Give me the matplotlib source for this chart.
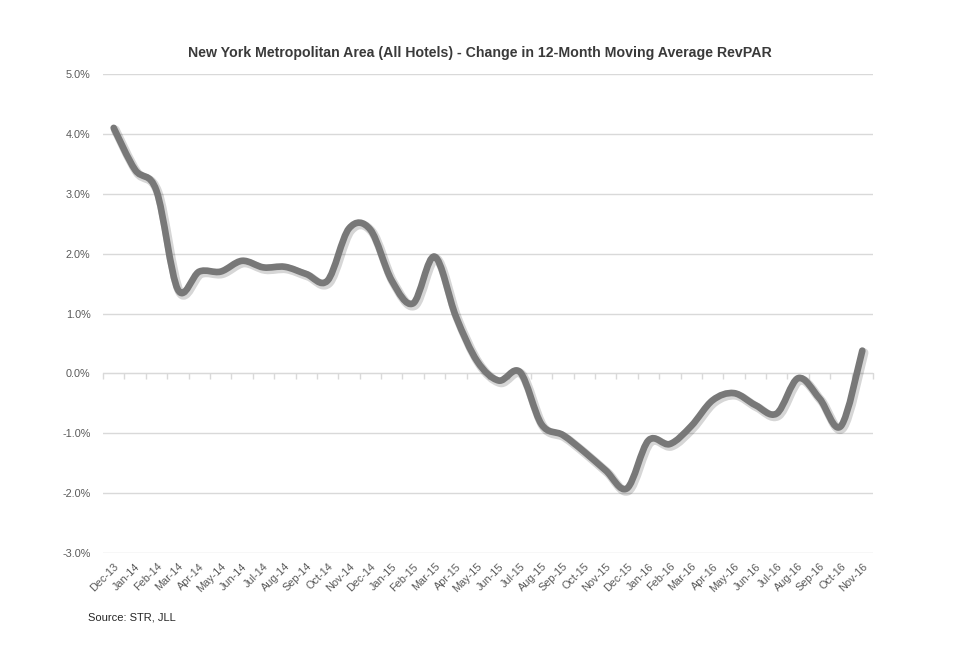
import matplotlib
matplotlib.use("Agg")
import matplotlib.pyplot as plt
import matplotlib.patheffects as pe
from matplotlib.path import Path
from matplotlib.patches import PathPatch
from matplotlib.ticker import FuncFormatter
import numpy as np

months = [
    "Dec-13", "Jan-14", "Feb-14", "Mar-14", "Apr-14", "May-14", "Jun-14", "Jul-14",
    "Aug-14", "Sep-14", "Oct-14", "Nov-14", "Dec-14", "Jan-15", "Feb-15", "Mar-15",
    "Apr-15", "May-15", "Jun-15", "Jul-15", "Aug-15", "Sep-15", "Oct-15", "Nov-15",
    "Dec-15", "Jan-16", "Feb-16", "Mar-16", "Apr-16", "May-16", "Jun-16", "Jul-16",
    "Aug-16", "Sep-16", "Oct-16", "Nov-16",
]
revpar_change = [
    4.10, 3.40, 3.05, 1.40, 1.70, 1.70, 1.88, 1.77,
    1.78, 1.66, 1.55, 2.42, 2.40, 1.55, 1.17, 1.95,
    0.95, 0.20, -0.12, 0.02, -0.85, -1.03, -1.31, -1.62,
    -1.92, -1.12, -1.18, -0.88, -0.45, -0.33, -0.53, -0.67,
    -0.08, -0.42, -0.88, 0.38,
]

TITLE = "New York Metropolitan Area (All Hotels) - Change in 12-Month Moving Average RevPAR"
SOURCE = "Source: STR, JLL"

TEXT = "#595959"
GRID = "#d9d9d9"
LINE = "#787878"

plt.rcParams["font.family"] = ["Liberation Sans Narrow", "Liberation Sans", "DejaVu Sans"]


def smooth_path(xs, ys):
    # Excel-like smoothed line: Catmull-Rom segments as cubic Beziers
    pts = np.column_stack([xs, ys])
    n = len(pts)
    verts = [pts[0]]
    codes = [Path.MOVETO]
    for i in range(n - 1):
        p0 = pts[i - 1] if i > 0 else pts[i]
        p1 = pts[i]
        p2 = pts[i + 1]
        p3 = pts[i + 2] if i + 2 < n else pts[i + 1]
        c1 = p1 + (p2 - p0) / 6.0
        c2 = p2 - (p3 - p1) / 6.0
        verts += [c1, c2, p2]
        codes += [Path.CURVE4] * 3
    return Path(verts, codes)


fig = plt.figure(figsize=(9.6, 6.55), dpi=100)
ax = fig.add_axes([103 / 960, 1 - 553 / 655, 770 / 960, 479 / 655])

x = np.arange(len(months))
path = smooth_path(x, np.array(revpar_change))
patch = PathPatch(path, facecolor="none", edgecolor=LINE, linewidth=4.8,
                  capstyle="round", joinstyle="round", zorder=3)
patch.set_path_effects([
    pe.SimpleLineShadow(offset=(1.2, -1.5), shadow_color="#000000", alpha=0.16, linewidth=6.5),
    pe.Normal(),
])
ax.add_patch(patch)

ax.set_xlim(-0.5, len(months) - 0.5)
ax.set_ylim(-3.0, 5.0)
ax.set_yticks(np.arange(-3, 6, 1))
ax.yaxis.set_major_formatter(FuncFormatter(lambda v, _: f"{v:.1f}%"))
ax.grid(True, axis="y", color=GRID, linewidth=1.0)
ax.set_axisbelow(True)
for s in ax.spines.values():
    s.set_visible(False)

ax.set_xticks(x)
ax.set_xticklabels(months, rotation=45, ha="right", rotation_mode="anchor")
ax.tick_params(axis="x", length=0, pad=6, labelsize=7.8, labelcolor=TEXT)
ax.tick_params(axis="y", length=0, pad=9, labelsize=7.8, labelcolor=TEXT)

# category axis crossing at 0.0% with boundary tick marks
sec = ax.secondary_xaxis(3 / 8)
sec.set_xticks(np.arange(-0.5, len(months), 1.0))
sec.tick_params(axis="x", length=4, width=1, color=GRID, labelbottom=False, labeltop=False,
                direction="out")
sec.spines["bottom"].set_color(GRID)
sec.spines["top"].set_visible(False)

fig.text(480 / 960, 1 - 53 / 655, TITLE, ha="center", va="center",
         fontsize=10.2, fontweight="bold", color="#3a3a3a")
fig.text(88 / 960, 1 - 617 / 655, SOURCE, ha="left", va="center",
         fontsize=8, color="#262626")

fig.savefig("out.png", dpi=100)
